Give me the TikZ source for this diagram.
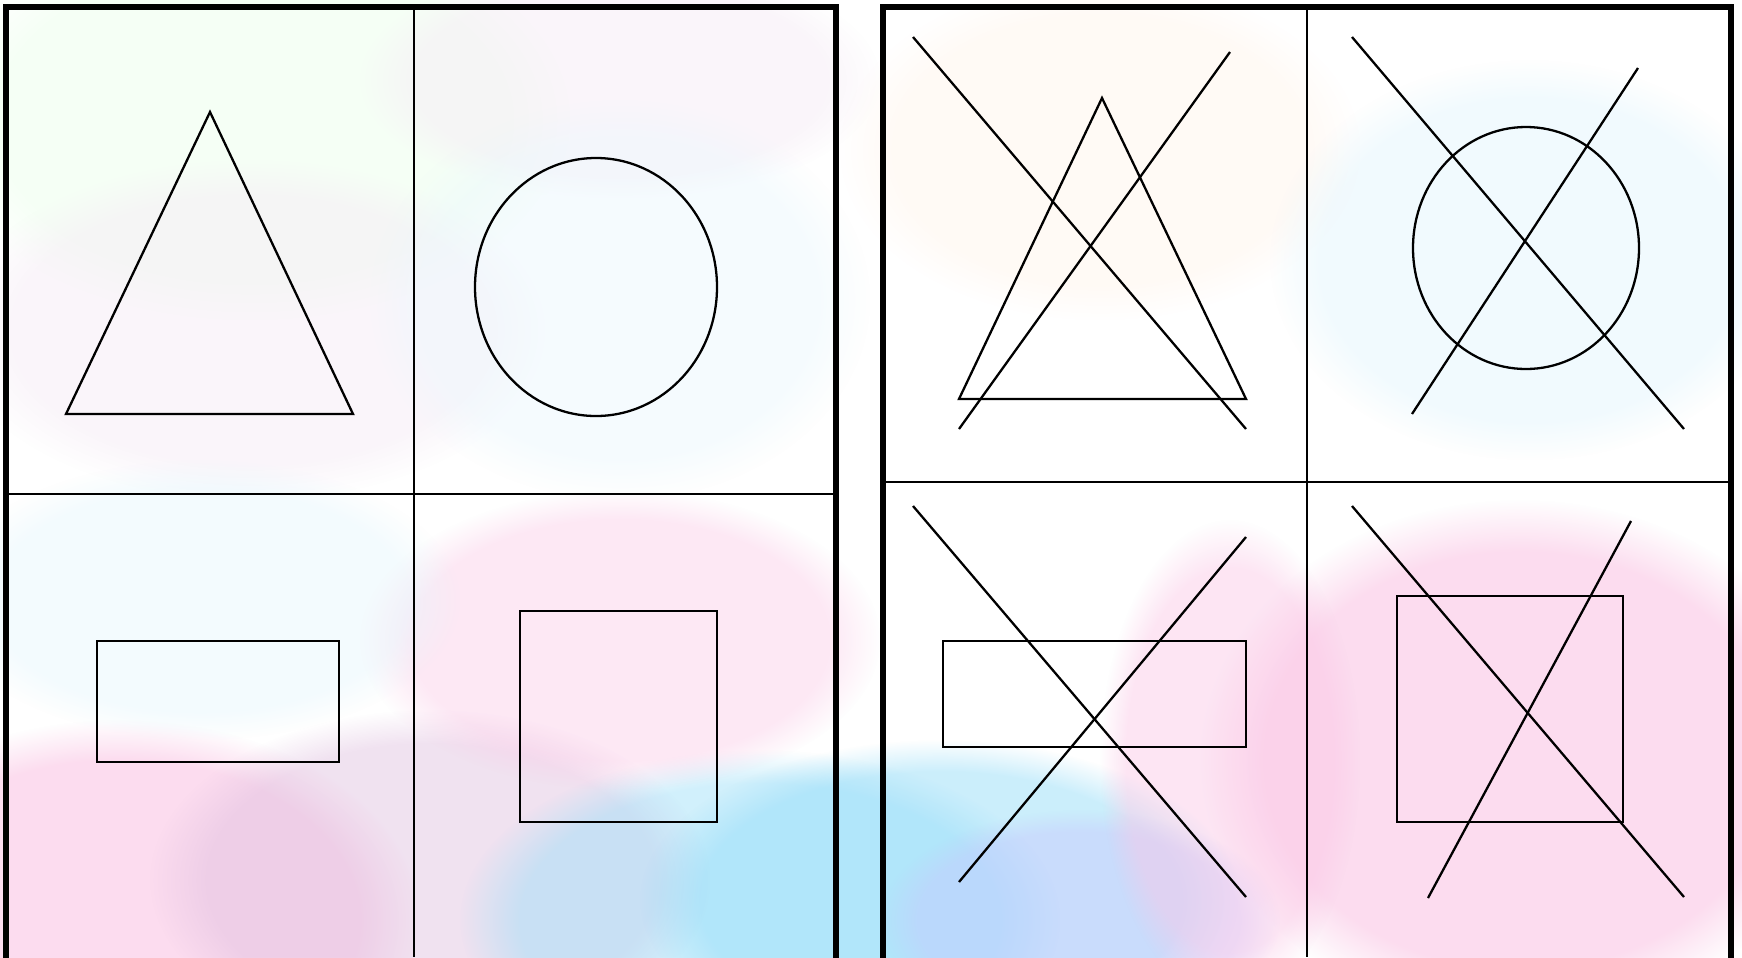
\documentclass[tikz,border=0pt]{standalone}
\usepackage{tikz}
\usetikzlibrary{fadings}
\tikzset{
  panel_frame/.style={draw=black, line width=1.7pt},
  grid_line/.style={draw=black, line width=0.8pt},
  shape_line/.style={draw=black, line width=0.65pt, line join=miter},
  cross_line/.style={draw=black, line width=0.65pt},
  blob/.style={path fading=circle with fuzzy edge 20 percent, opacity=0.45}
}
\begin{document}
\begin{tikzpicture}[x=0.01cm, y=-0.01cm]

  % Canvas
  \useasboundingbox (0,0) rectangle (1742,957);
  \fill[white] (0,0) rectangle (1742,957);

  % Pastel background wash
  \fill[blob, green!8] (250,120) ellipse (320 and 200);
  \fill[blob, violet!8] (620,80) ellipse (260 and 120);
  \fill[blob, violet!8] (250,330) ellipse (300 and 170);
  \fill[blob, cyan!8] (620,300) ellipse (250 and 200);
  \fill[blob, magenta!30] (120,920) ellipse (300 and 200);
  \fill[blob, violet!25] (430,880) ellipse (280 and 170);
  \fill[blob, cyan!40] (760,920) ellipse (300 and 170);
  \fill[blob, magenta!20] (620,640) ellipse (260 and 150);
  \fill[blob, cyan!10] (200,600) ellipse (260 and 140);
  \fill[blob, orange!8] (1100,150) ellipse (260 and 170);
  \fill[blob, cyan!12] (1530,260) ellipse (260 and 200);
  \fill[blob, cyan!45] (940,900) ellipse (300 and 160);
  \fill[blob, blue!22] (1080,920) ellipse (200 and 110);
  \fill[blob, magenta!30] (1520,760) ellipse (320 and 260);
  \fill[blob, magenta!22] (1230,760) ellipse (130 and 240);

  % Left panel
  \draw[grid_line] (414,6) -- (414,957);
  \draw[grid_line] (6,494) -- (836,494);
  \draw[panel_frame] (6,980) -- (6,7) -- (836,7) -- (836,980);

  \draw[shape_line] (210,112) -- (66,414) -- (353,414) -- cycle;
  \draw[shape_line] (596,287) ellipse (121 and 129);
  \draw[shape_line] (97,641) rectangle (339,762);
  \draw[shape_line] (520,611) rectangle (717,822);

  % Right panel
  \draw[grid_line] (1307,6) -- (1307,957);
  \draw[grid_line] (883,482) -- (1731,482);
  \draw[panel_frame] (883,980) -- (883,7) -- (1731,7) -- (1731,980);

  \draw[shape_line] (1102,98) -- (959,399) -- (1246,399) -- cycle;
  \draw[cross_line] (913,37) -- (1246,429);
  \draw[cross_line] (1230,52) -- (959,429);

  \draw[shape_line] (1526,248) ellipse (113 and 121);
  \draw[cross_line] (1352,37) -- (1684,429);
  \draw[cross_line] (1638,68) -- (1412,414);

  \draw[shape_line] (943,641) rectangle (1246,747);
  \draw[cross_line] (913,506) -- (1246,897);
  \draw[cross_line] (1246,537) -- (959,882);

  \draw[shape_line] (1397,596) rectangle (1623,822);
  \draw[cross_line] (1352,506) -- (1684,897);
  \draw[cross_line] (1631,521) -- (1428,898);

\end{tikzpicture}
\end{document}
